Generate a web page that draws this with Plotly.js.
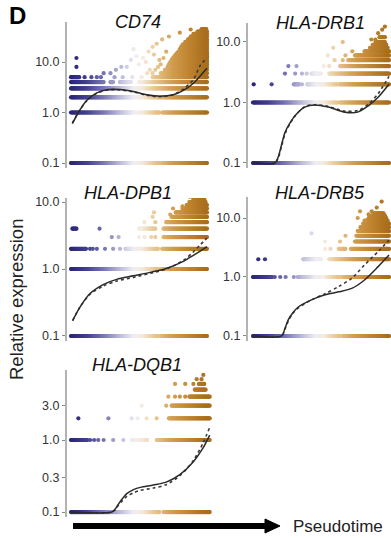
<!DOCTYPE html>
<html><head><meta charset="utf-8">
<script src="https://cdn.plot.ly/plotly-3.0.1.min.js"></script>
<style>html,body{margin:0;padding:0;background:#fff}#chart{width:391px;height:538px}</style>
</head><body><div id="chart"></div>
<script>
// ---------- DATA (pseudotime 0..1, relative expression; 0.1 = zero) ----------
const genes = ["CD74", "HLA-DRB1", "HLA-DPB1", "HLA-DRB5", "HLA-DQB1"];

// CD74
const cd74Levels = [0.1, 1, 2, 3, 4, 5, 6, 7, 8, 9, 10, 11, 12, 13, 14, 15, 16, 18, 20, 22, 25, 28, 32, 36, 40, 45];
const cd74Runs = [
  [[0,0.47],[0.49,0.65],[0.67,1]], [[0,0.47],[0.49,0.65],[0.67,1]], [[0,0.47],[0.49,1]], [[0,1]],
  [[0,0.24],[0.29,0.31],[0.36,0.44],[0.5,1]], [[0,0.06],[0.6,1]], [[0.66,1]], [[0.69,1]], [[0.71,1]],
  [[0.72,1]], [[0.73,1]], [[0.74,1]], [[0.75,1]], [[0.76,1]], [[0.77,1]], [[0.78,1]], [[0.79,1]],
  [[0.8,1]], [[0.81,1]], [[0.82,1]], [[0.84,1]], [[0.86,1]], [[0.88,1]], [[0.9,1]], [[0.93,1]], [[0.96,0.995]]
];
const cd74DotT = [0.04,0.04,0.1,0.15,0.19,0.22,0.24,0.29,0.33,0.37,0.41,0.46,0.48,0.53,0.57,0.6,0.63,0.32,0.38,0.45,0.52,0.56,0.5,0.55,0.44,0.67,0.72,0.8,0.88,0.6,0.62,0.64,0.66,0.68,0.61,0.65,0.7,0.58];
const cd74DotY = [12,8,5,5,5,5,6,6,7,8,8,18,13,12,16,20,23,5,5,5,5,6,9,10,11,28,32,38,44,6,7,8,9,12,14,11,16,7];
const cd74FitT = [0.01,0.054,0.115,0.19,0.274,0.36,0.458,0.557,0.654,0.752,0.826,0.9,0.95,1.0];
const cd74FitSolid = [0.6,1.0,1.73,2.45,2.85,2.85,2.6,2.24,2.1,2.24,2.73,3.8,5.3,7.5];
const cd74FitDotted = [0.62,1.0,1.7,2.4,2.8,2.8,2.55,2.2,2.05,2.25,2.9,4.5,8.5,12];

// HLA-DRB1
const drb1Levels = [0.1, 1, 2, 3, 4, 5, 6, 7, 8, 9, 10, 12];
const drb1Runs = [
  [[0,0.62],[0.635,1]], [[0,0.62],[0.635,1]], [[0.3,0.34],[0.4,0.62],[0.635,1]], [[0.43,0.5],[0.56,1]],
  [[0.64,1]], [[0.7,1]], [[0.75,1]], [[0.82,1]], [[0.86,0.99]], [[0.88,0.98]], [[0.9,0.97]], [[0.93,0.97]]
];
const drb1DotT = [0.005,0.137,0.36,0.235,0.31,0.36,0.395,0.26,0.32,0.52,0.56,0.6,0.66,0.55,0.68,0.59,0.66,0.73,0.87,0.92,0.95,0.97,0.9];
const drb1DotY = [2,2,2,3,3,3,3,4,4,4,4,5,5,6,6,8,10,7,11,14,16,18,11];
const drb1FitT = [0,0.16,0.185,0.21,0.235,0.27,0.31,0.38,0.456,0.554,0.676,0.775,0.85,0.92,1.0];
const drb1FitSolid = [0.1,0.1,0.125,0.2,0.32,0.45,0.61,0.84,0.91,0.84,0.69,0.7,0.89,1.22,2.0];
const drb1FitDotted = [0.1,0.1,0.12,0.19,0.3,0.44,0.6,0.85,0.92,0.86,0.72,0.74,0.95,1.4,2.7];

// HLA-DPB1
const dpb1Levels = [0.1, 1, 2, 3, 4, 5, 6, 7, 8, 9, 10, 11];
const dpb1Runs = [
  [[0,0.64],[0.66,1]], [[0,0.64],[0.66,1]], [[0,0.11],[0.4,0.64],[0.67,1]], [[0.68,1]],
  [[0.01,0.04],[0.5,0.62],[0.68,1]], [[0.7,1]], [[0.74,1]], [[0.77,1]], [[0.82,1]], [[0.85,1]], [[0.87,0.99]], [[0.9,0.98]]
];
const dpb1DotT = [0.14,0.16,0.19,0.25,0.31,0.36,0.3,0.35,0.5,0.54,0.59,0.62,0.21,0.54,0.62,0.6,0.61,0.73,0.75,0.82,0.875];
const dpb1DotY = [2,2,2,2,2,2,3,3,3,3,3,3,4,5,5,6,7,6.5,8,8.6,12];
const dpb1FitT = [0.012,0.066,0.14,0.24,0.336,0.458,0.58,0.70,0.826,0.9,0.95,1.0];
const dpb1FitSolid = [0.17,0.27,0.43,0.59,0.70,0.79,0.89,1.02,1.3,1.6,1.85,2.15];
const dpb1FitDotted = [0.17,0.27,0.42,0.56,0.66,0.75,0.86,1.0,1.35,1.8,2.3,2.9];

// HLA-DRB5
const drb5Levels = [0.1, 1, 2, 3, 4, 5, 6, 7, 8, 9, 10, 11, 12];
const drb5Runs = [
  [[0,0.64],[0.66,1]], [[0,0.14],[0.33,0.5],[0.53,0.64],[0.66,1]], [[0.37,0.5],[0.56,1]], [[0.63,0.68],[0.72,1]],
  [[0.75,1]], [[0.76,1]], [[0.77,1]], [[0.79,1]], [[0.81,1]], [[0.83,0.99]], [[0.85,0.98]], [[0.87,0.97]], [[0.89,0.96]]
];
const drb5DotT = [0.16,0.2,0.24,0.3,0.039,0.088,0.53,0.57,0.53,0.64,0.68,0.43,0.77,0.787,0.82,0.91,0.946,0.873,0.85];
const drb5DotY = [1,1,1,1,2,2,3,3,4,4,5,5.5,10,13,9,15,19,13,11.5];
const drb5FitT = [0,0.21,0.235,0.26,0.295,0.333,0.43,0.53,0.63,0.726,0.82,0.92,1.0];
const drb5FitSolid = [0.1,0.1,0.135,0.19,0.25,0.31,0.41,0.50,0.56,0.64,0.89,1.5,2.36];
const drb5FitDotted = [0.1,0.1,0.13,0.18,0.245,0.3,0.41,0.52,0.69,0.95,1.6,2.7,4.2];

// HLA-DQB1
const dqb1Levels = [0.1, 1, 2, 3, 4, 5, 6];
const dqb1Runs = [
  [[0,0.65],[0.68,1.02]], [[0,0.12],[0.45,0.56],[0.63,1.02]], [[0.72,1.02]], [[0.74,1.02]],
  [[0.87,1.02]], [[0.91,0.99]], [[0.94,0.98]]
];
const dqb1DotT = [0.14,0.17,0.2,0.24,0.31,0.385,0.054,0.275,0.446,0.49,0.556,0.63,0.52,0.7,0.716,0.765,0.8,0.84,0.765,0.84,0.9,0.924,0.96,0.973];
const dqb1DotY = [1,1,1,1,1,1,2,2,2,2,2,2,3,3,4,4,4,4,6,6,6,7,7,8];
const dqb1FitT = [0,0.3,0.325,0.35,0.38,0.41,0.46,0.51,0.605,0.70,0.80,0.9,0.97,1.02];
const dqb1FitSolid = [0.1,0.1,0.11,0.13,0.155,0.18,0.205,0.22,0.237,0.26,0.33,0.5,0.77,1.17];
const dqb1FitDotted = [0.1,0.1,0.108,0.125,0.145,0.165,0.185,0.2,0.215,0.24,0.32,0.52,0.9,1.5];

// tick labels
const tickVals3 = [0.1, 1, 10];
const tickText3 = ["0.1", "1.0", "10.0"];
const tickValsDQ = [0.1, 0.3, 1, 3];
const tickTextDQ = ["0.1", "0.3", "1.0", "3.0"];

// ---------- DRAWING ----------
const W = 391, H = 538;
const PX = x => x / W, PY = y => 1 - y / H;
const CS = [[0,'#2a2575'],[0.12,'#423e90'],[0.25,'#7a77b5'],[0.37,'#bdbbdb'],[0.47,'#efedf3'],[0.53,'#f4ebde'],[0.62,'#e8c893'],[0.75,'#d29e52'],[0.88,'#bf8431'],[1,'#a86e1e']];

const panels = [
  {lv:cd74Levels, runs:cd74Runs, dt:cd74DotT, dy:cd74DotY, ft:cd74FitT, fs:cd74FitSolid, fd:cd74FitDotted, tv:tickVals3, tt:tickText3,
   xd:[67,210], xr:[-4/136,139/136], yd:[22,168], yr:[-1.099,1.792], title:[138,22]},
  {lv:drb1Levels, runs:drb1Runs, dt:drb1DotT, dy:drb1DotY, ft:drb1FitT, fs:drb1FitSolid, fd:drb1FitDotted, tv:tickVals3, tt:tickText3,
   xd:[248,391], xr:[-5/136,138/136], yd:[23,168], yr:[-1.083,1.314], title:[320,23]},
  {lv:dpb1Levels, runs:dpb1Runs, dt:dpb1DotT, dy:dpb1DotY, ft:dpb1FitT, fs:dpb1FitSolid, fd:dpb1FitDotted, tv:tickVals3, tt:tickText3,
   xd:[67,210], xr:[-4/136,139/136], yd:[198,341], yr:[-1.075,1.06], title:[128,193]},
  {lv:drb5Levels, runs:drb5Runs, dt:drb5DotT, dy:drb5DotY, ft:drb5FitT, fs:drb5FitSolid, fd:drb5FitDotted, tv:tickVals3, tt:tickText3,
   xd:[248,391], xr:[-5/136,138/136], yd:[197,341], yr:[-1.085,1.356], title:[320,193]},
  {lv:dqb1Levels, runs:dqb1Runs, dt:dqb1DotT, dy:dqb1DotY, ft:dqb1FitT, fs:dqb1FitSolid, fd:dqb1FitDotted, tv:tickValsDQ, tt:tickTextDQ,
   xd:[67,212], xr:[-4/136,141/136], yd:[370,517], yr:[-1.069,0.972], title:[137,365]}
];

const traces = [];
const layout = {
  width: W, height: H, margin:{l:0,r:0,t:0,b:0},
  paper_bgcolor:'#fff', plot_bgcolor:'rgba(0,0,0,0)',
  showlegend:false, annotations:[], shapes:[],
  font:{family:'"Liberation Sans", Arial, sans-serif', color:'#333'}
};

panels.forEach((p, i) => {
  const n = i === 0 ? '' : String(i + 1);
  const xa = 'x' + n, ya = 'y' + n;
  const xs = [], ys = [];
  const step = 0.005; // marker spacing along each dense run
  p.lv.forEach((lv, k) => {
    p.runs[k].forEach(([a, b]) => {
      for (let t = a; t <= b + 1e-9; t += step) { xs.push(t); ys.push(lv); }
    });
  });
  p.dt.forEach((t, k) => { xs.push(t); ys.push(p.dy[k]); });
  traces.push({type:'scatter', mode:'markers', x:xs, y:ys, xaxis:xa, yaxis:ya,
    marker:{size:4.2, color:xs, colorscale:CS, cmin:0, cmax:1, showscale:false, line:{width:0}},
    hoverinfo:'skip'});
  traces.push({type:'scatter', mode:'lines', x:p.ft, y:p.fd, xaxis:xa, yaxis:ya,
    line:{color:'#3a3a3a', width:1.6, dash:'dot', shape:'spline', smoothing:0.8}, hoverinfo:'skip'});
  traces.push({type:'scatter', mode:'lines', x:p.ft, y:p.fs, xaxis:xa, yaxis:ya,
    line:{color:'#2a2a2a', width:1.5, shape:'spline', smoothing:0.8}, hoverinfo:'skip'});
  layout['xaxis' + n] = {domain:[PX(p.xd[0]), PX(p.xd[1])], range:p.xr, visible:false, anchor:ya, fixedrange:true};
  layout['yaxis' + n] = {domain:[PY(p.yd[1]), PY(p.yd[0])], range:p.yr, type:'log', anchor:xa,
    showline:true, linecolor:'#b3b3b3', linewidth:2, showgrid:false, zeroline:false,
    tickmode:'array', tickvals:p.tv, ticktext:p.tt, ticks:'outside', ticklen:3, tickwidth:1, tickcolor:'#888',
    tickfont:{size:12.5, color:'#333', family:'"Liberation Sans", Arial, sans-serif'}, fixedrange:true};
  layout.annotations.push({xref:'paper', yref:'paper', x:PX(p.title[0]), y:PY(p.title[1]), xanchor:'center', yanchor:'middle',
    text:'<i>' + genes[i] + '</i>', showarrow:false, font:{size:18, color:'#111'}});
});

// panel letter, axis title, pseudotime arrow
layout.annotations.push({xref:'paper', yref:'paper', x:PX(7), y:PY(16), xanchor:'left', yanchor:'middle',
  text:'<b>D</b>', showarrow:false, font:{size:24, color:'#000', family:'"Liberation Sans", Arial, sans-serif'}});
layout.annotations.push({xref:'paper', yref:'paper', x:PX(16), y:PY(300), xanchor:'center', yanchor:'middle',
  text:'Relative expression', textangle:-90, showarrow:false, font:{size:18.5, color:'#222'}});
layout.annotations.push({xref:'paper', yref:'paper', x:PX(291), y:PY(526), xanchor:'left', yanchor:'middle',
  text:'Pseudotime', showarrow:false, font:{size:17, color:'#222'}});
layout.shapes.push({type:'line', xref:'paper', yref:'paper', x0:PX(73), x1:PX(268), y0:PY(526), y1:PY(526),
  line:{color:'#000', width:6}});
layout.shapes.push({type:'path', xref:'paper', yref:'paper',
  path:`M ${PX(265)},${PY(519)} L ${PX(280)},${PY(526)} L ${PX(265)},${PY(533)} Z`,
  fillcolor:'#000', line:{color:'#000', width:1}});

Plotly.newPlot('chart', traces, layout, {staticPlot:true, displayModeBar:false});
</script></body></html>
